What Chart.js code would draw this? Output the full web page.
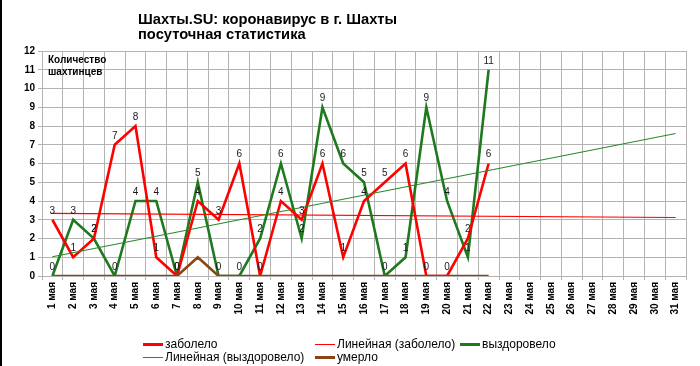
<!DOCTYPE html>
<html lang="ru">
<head>
<meta charset="utf-8">
<title>Шахты.SU: коронавирус в г. Шахты</title>
<script src="https://cdn.jsdelivr.net/npm/chart.js@4"></script>
<style>
    html, body { margin: 0; padding: 0; background: #fff; }
    #quadro { position: relative; width: 700px; height: 366px; overflow: hidden; font-family: "Liberation Sans", Arial, sans-serif; color: #000; }
    #quadro canvas { position: absolute; left: 0; top: 0; }
    #borda { position: absolute; left: 0; top: 0; width: 2px; height: 366px; background: #000; }
    #titulo { position: absolute; left: 138px; top: 12px; font-weight: bold; font-size: 14.7px; line-height: 15px; white-space: nowrap; }
    #rotulo-y { position: absolute; left: 48px; top: 54px; font-size: 10px; line-height: 12px; font-weight: bold; white-space: nowrap; }
    #legenda { position: absolute; left: 143px; top: 338px; display: grid; grid-template-columns: 172px 145px auto; grid-auto-rows: 13px; font-size: 12px; line-height: 13px; white-space: nowrap; }
    #legenda .item { display: flex; align-items: center; }
    #legenda .marca { display: inline-block; width: 20px; margin-right: 2px; }
</style>
</head>
<body>
<div id="quadro">
    <canvas id="graficoShakhty" width="700" height="366"></canvas>
    <div id="borda"></div>
    <div id="titulo">Шахты.SU: коронавирус в г. Шахты<br>посуточная статистика</div>
    <div id="rotulo-y">Количество<br>шахтинцев</div>
    <div id="legenda"></div>
</div>
<script>
const dias = ['1 мая', '2 мая', '3 мая', '4 мая', '5 мая', '6 мая', '7 мая', '8 мая', '9 мая', '10 мая',
    '11 мая', '12 мая', '13 мая', '14 мая', '15 мая', '16 мая', '17 мая', '18 мая', '19 мая', '20 мая',
    '21 мая', '22 мая', '23 мая', '24 мая', '25 мая', '26 мая', '27 мая', '28 мая', '29 мая', '30 мая', '31 мая'];
const zabolelo = [3, 1, 2, 7, 8, 1, 0, 4, 3, 6, 0, 4, 3, 6, 1, 4, 5, 6, 0, 0, 2, 6];
const vyzdorovelo = [0, 3, 2, 0, 4, 4, 0, 5, 0, 0, 2, 6, 2, 9, 6, 5, 0, 1, 9, 4, 1, 11];
const umerlo = [0, 0, 0, 0, 0, 0, 0, 1, 0, 0, 0, 0, 0, 0, 0, 0, 0, 0, 0, 0, 0, 0];
// pontas das linhas de tendência (1 мая e 31 мая)
const tendZabolelo = [3.34, 3.12];
const tendVyzdorovelo = [1.03, 7.6];
const escalaY = [0, 12];

function linhaTendencia(pontas) {
    const arr = dias.map(() => null);
    arr[0] = pontas[0];
    arr[arr.length - 1] = pontas[1];
    return arr;
}

const rotulosValores = {
    id: 'rotulosValores',
    afterDatasetsDraw(chart) {
        const ctx = chart.ctx;
        ctx.save();
        ctx.font = '10px "Liberation Sans", Arial, sans-serif';
        ctx.fillStyle = '#1a1a1a';
        ctx.textAlign = 'center';
        ctx.textBaseline = 'middle';
        chart.data.datasets.forEach((ds, i) => {
            if (!ds.mostrarValores) return;
            chart.getDatasetMeta(i).data.forEach((pt, j) => {
                const v = ds.data[j];
                if (v == null) return;
                ctx.fillText(String(v), pt.x, pt.y - 9);
            });
        });
        ctx.restore();
    }
};

const ctx = document.getElementById('graficoShakhty');
const grafico = new Chart(ctx, {
    type: 'line',
    data: {
        labels: dias,
        datasets: [
            { label: 'заболело', data: zabolelo, borderColor: '#ff0000', borderWidth: 2.6, mostrarValores: true, order: 3 },
            { label: 'Линейная (заболело)', data: linhaTendencia(tendZabolelo), borderColor: '#ff0000', borderWidth: 1.2, spanGaps: true, order: 1 },
            { label: 'выздоровело', data: vyzdorovelo, borderColor: '#1f7a1f', borderWidth: 2.6, mostrarValores: true, order: 4 },
            { label: 'Линейная (выздоровело)', data: linhaTendencia(tendVyzdorovelo), borderColor: '#2a8a2a', borderWidth: 1.1, spanGaps: true, order: 0 },
            { label: 'умерло', data: umerlo, borderColor: '#8b4513', borderWidth: 2.6, order: 2 }
        ]
    },
    options: {
        responsive: false,
        animation: false,
        events: [],
        elements: { point: { radius: 0 }, line: { tension: 0, borderCapStyle: 'butt' } },
        layout: { padding: { top: 51, right: 14, bottom: 0, left: 0 } },
        plugins: { legend: { display: false }, title: { display: false }, tooltip: { enabled: false } },
        scales: {
            x: {
                type: 'category',
                offset: true,
                grid: { offset: true, color: '#b3b3b3', tickLength: 4 },
                border: { color: '#b3b3b3' },
                ticks: {
                    autoSkip: false, minRotation: 90, maxRotation: 90, padding: 2,
                    color: '#000', font: { family: '"Liberation Sans", Arial, sans-serif', size: 10, weight: 'bold' }
                },
                afterFit(scale) { scale.height = 90; }
            },
            y: {
                min: escalaY[0], max: escalaY[1],
                grid: { color: '#b3b3b3', tickLength: 4 },
                border: { color: '#b3b3b3' },
                ticks: {
                    stepSize: 1, padding: 3,
                    color: '#000', font: { family: '"Liberation Sans", Arial, sans-serif', size: 10, weight: 'bold' }
                },
                afterFit(scale) { scale.width = 42; }
            }
        }
    },
    plugins: [rotulosValores]
});

// legenda em grade, como no original
const legenda = document.getElementById('legenda');
grafico.data.datasets.forEach(ds => {
    const item = document.createElement('div');
    item.className = 'item';
    const marca = document.createElement('span');
    marca.className = 'marca';
    marca.style.height = ds.borderWidth > 2 ? '3px' : '1px';
    marca.style.background = ds.borderColor;
    item.appendChild(marca);
    item.appendChild(document.createTextNode(ds.label));
    legenda.appendChild(item);
});
</script>
</body>
</html>
